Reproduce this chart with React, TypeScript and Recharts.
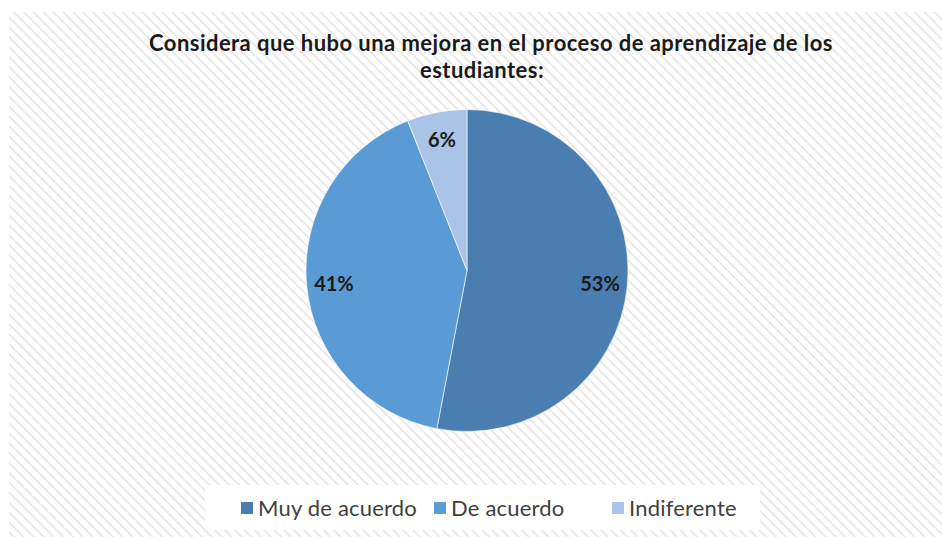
import { PieChart, Pie, Cell, Legend } from 'recharts'

const categories = ['Muy de acuerdo', 'De acuerdo', 'Indiferente']
const percents = [53, 41, 6]
const colors = ['#4a7eb1', '#5b9bd5', '#a9c4e7']

const titleLines = [
  'Considera que hubo una mejora en el proceso de aprendizaje de los',
  'estudiantes:',
]

const data = categories.map((name, i) => ({ name, value: percents[i] }))

const RAD = Math.PI / 180

// etiqueta dentro de cada porción
const renderLabel = (props: any) => {
  const { cx, cy, midAngle, outerRadius, value } = props
  const r = outerRadius * 0.83
  const x = cx + r * Math.cos(-midAngle * RAD)
  const y = cy + r * Math.sin(-midAngle * RAD)
  return (
    <text
      x={x}
      y={y}
      textAnchor="middle"
      dominantBaseline="central"
      fill="#1a1a1a"
      style={{ fontFamily: 'Lato', fontWeight: 700, fontSize: 20 }}
    >
      {value}%
    </text>
  )
}

const itemLefts = [36, 229, 407]

// leyenda propia, en el orden de las categorías
const renderLegend = () => (
  <div style={{ position: 'relative', width: 555, height: 45 }}>
    {categories.map((name, i) => (
      <div
        key={name}
        style={{
          position: 'absolute',
          left: itemLefts[i],
          top: 0,
          height: 45,
          display: 'flex',
          alignItems: 'center',
          gap: 5,
        }}
      >
        <span style={{ width: 12, height: 12, background: colors[i], display: 'inline-block' }} />
        <span
          style={{
            fontFamily: 'Lato',
            fontSize: 22,
            letterSpacing: 0.2,
            color: '#404040',
            whiteSpace: 'nowrap',
          }}
        >
          {name}
        </span>
      </div>
    ))}
  </div>
)

const titleStyle = {
  position: 'absolute' as const,
  width: 700,
  lineHeight: '27px',
  textAlign: 'center' as const,
  fontFamily: 'Lato',
  fontWeight: 700,
  fontSize: 22,
  letterSpacing: 0.45,
  color: '#1a1a1a',
  whiteSpace: 'nowrap' as const,
}

export default function App() {
  return (
    <div
      style={{
        position: 'absolute',
        left: 9,
        top: 12,
        width: 933,
        height: 525,
        background:
          'repeating-linear-gradient(45deg, #ffffff 0px, #ffffff 2px, #e3e3e3 3.5px, #ffffff 5px, #ffffff 7px)',
      }}
    >
      <div style={{ ...titleStyle, left: 132, top: 17 }}>{titleLines[0]}</div>
      <div style={{ ...titleStyle, left: 123, top: 44 }}>{titleLines[1]}</div>
      <PieChart
        width={933}
        height={525}
        margin={{ top: 0, right: 0, bottom: 0, left: 0 }}
        style={{ position: 'absolute', left: 0, top: 0 }}
      >
        <Pie
          data={data}
          dataKey="value"
          nameKey="name"
          cx={458}
          cy={258.5}
          outerRadius={161}
          startAngle={90}
          endAngle={-270}
          stroke="#ffffff"
          strokeWidth={0.6}
          label={renderLabel}
          labelLine={false}
          isAnimationActive={false}
        >
          {data.map((d, i) => (
            <Cell key={d.name} fill={colors[i]} />
          ))}
        </Pie>
        <Legend
          content={renderLegend}
          wrapperStyle={{
            position: 'absolute',
            left: 196,
            top: 473,
            width: 555,
            height: 45,
            background: '#ffffff',
          }}
        />
      </PieChart>
    </div>
  )
}
